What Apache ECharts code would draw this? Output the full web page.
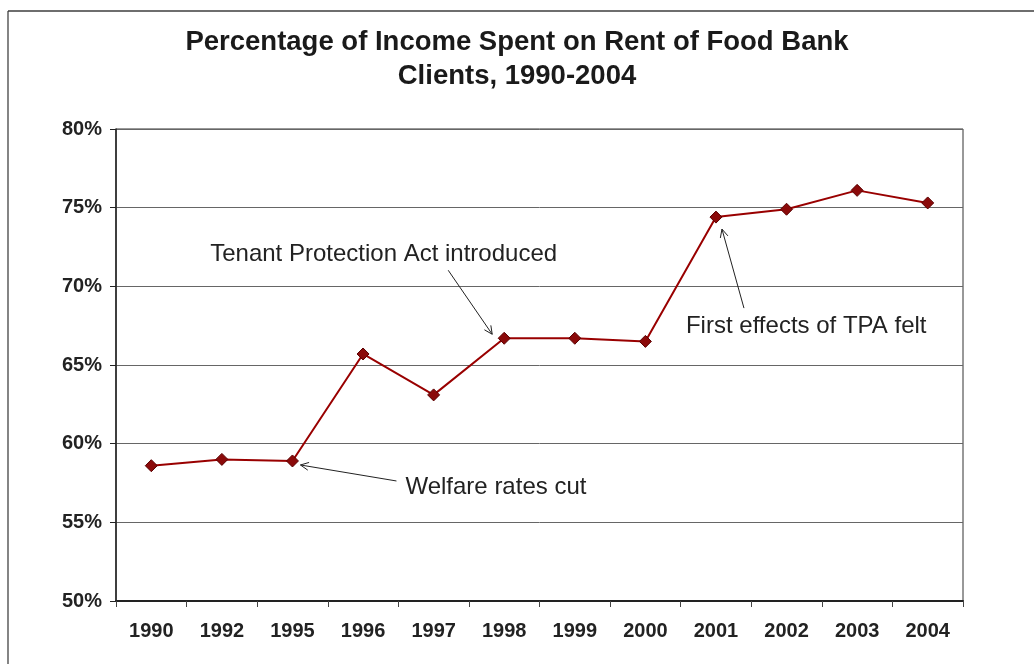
<!DOCTYPE html>
<html>
<head>
<meta charset="utf-8">
<script src="https://cdn.jsdelivr.net/npm/echarts@6/dist/echarts.min.js"></script>
<style>
  html, body { margin: 0; padding: 0; background: #fff; }
  #chart { width: 1034px; height: 664px; }
</style>
</head>
<body>
<div id="chart"></div>
<script>
// Survey years and share of income spent on rent (%)
const years = ['1990', '1992', '1995', '1996', '1997', '1998', '1999', '2000', '2001', '2002', '2003', '2004'];
const rentShare = [58.6, 59.0, 58.9, 65.7, 63.1, 66.7, 66.7, 66.5, 74.4, 74.9, 76.1, 75.3];
const yTicks = [50, 55, 60, 65, 70, 75, 80];

// Call-outs: text and the year they point at
const notes = [
  { text: 'Tenant Protection Act introduced', year: '1998' },
  { text: 'First effects of TPA felt', year: '2001' },
  { text: 'Welfare rates cut', year: '1995' }
];

const chart = echarts.init(document.getElementById('chart'));
const FONT = '"Liberation Sans", Arial, sans-serif';

chart.setOption({
  animation: false,
  backgroundColor: '#fff',
  title: {
    text: 'Percentage of Income Spent on Rent of Food Bank\nClients, 1990-2004',
    left: 'center',
    top: 20,
    textStyle: { fontFamily: FONT, fontSize: 27.5, fontWeight: 'bold', color: '#1a1a1a', lineHeight: 34 }
  },
  grid: {
    left: 116, right: 71, top: 129, bottom: 63,
    show: true, borderColor: '#333', borderWidth: 1, backgroundColor: '#fff'
  },
  xAxis: {
    type: 'category',
    data: years,
    boundaryGap: true,
    axisLine: { lineStyle: { color: '#222', width: 2 } },
    axisTick: { show: true, interval: 0, length: 6, lineStyle: { color: '#444' } },
    axisLabel: { interval: 0, margin: 20, fontFamily: FONT, fontSize: 20, fontWeight: 'bold', color: '#222' }
  },
  yAxis: {
    type: 'value',
    min: yTicks[0],
    max: yTicks[yTicks.length - 1],
    interval: 5,
    axisLine: { show: true, lineStyle: { color: '#222', width: 1.5 } },
    axisTick: { show: true, length: 6, lineStyle: { color: '#222' } },
    axisLabel: { margin: 14, fontFamily: FONT, fontSize: 20, fontWeight: 'bold', color: '#222', formatter: v => v + '%' },
    splitLine: { show: true, lineStyle: { color: '#666', width: 1 } }
  },
  series: [{
    type: 'line',
    data: rentShare,
    symbol: 'diamond',
    symbolSize: 12,
    lineStyle: { color: '#990000', width: 2 },
    itemStyle: { color: '#8b0a0a', borderColor: '#5a0000', borderWidth: 1 }
  }]
});

// Place call-out text and arrows relative to the data points they refer to
const layout = {
  '1998': { tx: -294, ty: -84, from: [-56, -68], to: [-12, -4] },
  '2001': { tx: -30, ty: 109, from: [28, 91], to: [6, 12] },
  '1995': { tx: 113, ty: 26, from: [104, 20], to: [8, 4] }
};

function arrow(x1, y1, x2, y2) {
  const ang = Math.atan2(y2 - y1, x2 - x1);
  const L = 9, W = 0.45;
  const a1 = [x2 - L * Math.cos(ang - W), y2 - L * Math.sin(ang - W)];
  const a2 = [x2 - L * Math.cos(ang + W), y2 - L * Math.sin(ang + W)];
  const st = { stroke: '#222', lineWidth: 1, fill: null };
  return [
    { type: 'line', shape: { x1, y1, x2, y2 }, style: st, z: 50 },
    { type: 'polyline', shape: { points: [a1, [x2, y2], a2] }, style: st, z: 50 }
  ];
}

const graphics = [
  // outer frame
  { type: 'line', shape: { x1: 8, y1: 11, x2: 1034, y2: 11 }, style: { stroke: '#6e6e6e', lineWidth: 2 } },
  { type: 'line', shape: { x1: 8, y1: 11, x2: 8, y2: 664 }, style: { stroke: '#333', lineWidth: 1.2 } }
];

notes.forEach(n => {
  const i = years.indexOf(n.year);
  const p = chart.convertToPixel({ gridIndex: 0 }, [i, rentShare[i]]);
  const o = layout[n.year];
  graphics.push({
    type: 'text',
    x: p[0] + o.tx, y: p[1] + o.ty,
    style: { text: n.text, font: '24px ' + FONT, fill: '#222', textVerticalAlign: 'middle', verticalAlign: 'middle' },
    z: 50
  });
  graphics.push(...arrow(p[0] + o.from[0], p[1] + o.from[1], p[0] + o.to[0], p[1] + o.to[1]));
});

chart.setOption({ graphic: graphics });
</script>
</body>
</html>
